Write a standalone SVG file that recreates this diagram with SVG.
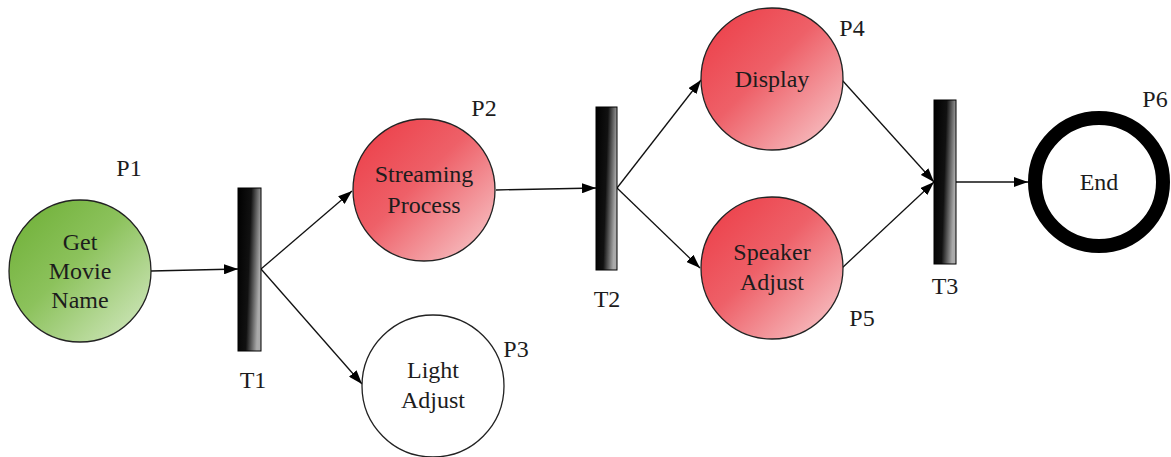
<svg xmlns="http://www.w3.org/2000/svg" width="1171" height="457" viewBox="0 0 1171 457">
<style>
.nt{font-size:24px;text-anchor:middle;fill:#1c1c1c}
.lb{font-size:24px;text-anchor:middle;fill:#1c1c1c}
.place{stroke:#222;stroke-width:1.3}
.bar{fill:url(#gBar);stroke:#000;stroke-width:1}
.arc{stroke:#111;stroke-width:1.3;fill:none;marker-end:url(#ah)}
</style>
<defs>
<linearGradient id="gRed" x1="0" y1="0" x2="1" y2="1">
<stop offset="0" stop-color="#ec3a44"/>
<stop offset="0.45" stop-color="#ee6068"/>
<stop offset="1" stop-color="#f8cfd1"/>
</linearGradient>
<linearGradient id="gGreen" x1="0" y1="0" x2="1" y2="1">
<stop offset="0" stop-color="#6cae33"/>
<stop offset="0.45" stop-color="#8cc25c"/>
<stop offset="1" stop-color="#d8ebc8"/>
</linearGradient>
<linearGradient id="gBar" x1="0" y1="0" x2="1" y2="0.25">
<stop offset="0" stop-color="#000"/>
<stop offset="0.55" stop-color="#111"/>
<stop offset="1" stop-color="#aaa"/>
</linearGradient>
<marker id="ah" viewBox="0 0 14 10" refX="14" refY="5" markerWidth="14" markerHeight="10" markerUnits="userSpaceOnUse" orient="auto">
<path d="M0,0 L14,5 L0,10 Z" fill="#000"/>
</marker>
</defs>
<g id="connectors">
<line class="arc" x1="151" y1="271" x2="238" y2="269"/>
<line class="arc" x1="261" y1="269" x2="352" y2="191"/>
<line class="arc" x1="261" y1="269" x2="362" y2="384"/>
<line class="arc" x1="496" y1="190" x2="596" y2="188"/>
<line class="arc" x1="617" y1="188" x2="701" y2="80"/>
<line class="arc" x1="617" y1="188" x2="700" y2="268"/>
<line class="arc" x1="842" y1="80" x2="934" y2="182"/>
<line class="arc" x1="842" y1="268" x2="934" y2="182"/>
<line class="arc" x1="956" y1="182" x2="1028" y2="182"/>
</g>
<g font-family="Liberation Serif">
<g id="P1">
<circle class="place" cx="80" cy="271" r="71" fill="url(#gGreen)"/>
<text class="nt" x="80" y="250">Get</text>
<text class="nt" x="80" y="279">Movie</text>
<text class="nt" x="80" y="308">Name</text>
<text class="lb" x="129" y="176">P1</text>
</g>
<g id="T1">
<rect class="bar" x="238" y="188" width="23" height="163"/>
<text class="lb" x="253" y="388">T1</text>
</g>
<g id="P2">
<circle class="place" cx="424" cy="190" r="71" fill="url(#gRed)"/>
<text class="nt" x="424" y="182">Streaming</text>
<text class="nt" x="424" y="213">Process</text>
<text class="lb" x="484" y="116">P2</text>
</g>
<g id="P3">
<circle class="place" cx="433" cy="386" r="71" fill="#fff"/>
<text class="nt" x="433" y="378">Light</text>
<text class="nt" x="433" y="408">Adjust</text>
<text class="lb" x="516" y="357">P3</text>
</g>
<g id="T2">
<rect class="bar" x="596" y="107" width="21" height="163"/>
<text class="lb" x="607" y="307">T2</text>
</g>
<g id="P4">
<circle class="place" cx="772" cy="79" r="71" fill="url(#gRed)"/>
<text class="nt" x="772" y="87">Display</text>
<text class="lb" x="852" y="36">P4</text>
</g>
<g id="P5">
<circle class="place" cx="772" cy="268" r="71" fill="url(#gRed)"/>
<text class="nt" x="772" y="260">Speaker</text>
<text class="nt" x="772" y="290">Adjust</text>
<text class="lb" x="862" y="326">P5</text>
</g>
<g id="T3">
<rect class="bar" x="934" y="100" width="22" height="164"/>
<text class="lb" x="945" y="294">T3</text>
</g>
<g id="P6">
<circle cx="1099" cy="182" r="64" fill="#fff" stroke="#000" stroke-width="14"/>
<text class="nt" x="1099" y="190">End</text>
<text class="lb" x="1155" y="107">P6</text>
</g>
</g>
</svg>
